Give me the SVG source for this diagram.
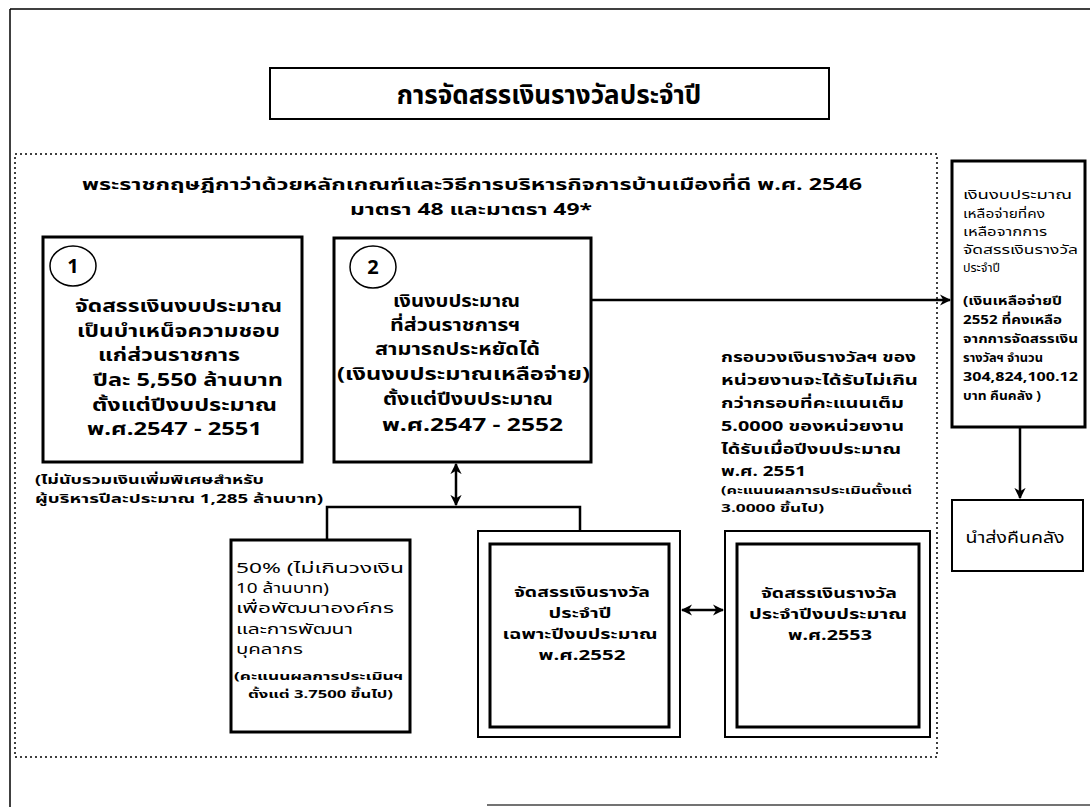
<svg xmlns="http://www.w3.org/2000/svg" width="1090" height="807" viewBox="0 0 1090 807">
<defs>
<style>
text{font-family:"Noto Sans Thai","Noto Sans","DejaVu Sans",sans-serif;fill:#000}
.b{font-weight:bold}
.t17{font-size:17px}
.t16{font-size:16px}
.t15{font-size:15px}
.t14{font-size:14px}
.t13{font-size:13px}
.t12{font-size:12px}
.t11{font-size:11px}
.m{text-anchor:middle}
.box{fill:#fff;stroke:#000;stroke-width:3}
.thin{fill:#fff;stroke:#000;stroke-width:2}
.ln{fill:none;stroke:#000;stroke-width:2.5}
</style>
<marker id="ah" viewBox="0 0 10 10" refX="9" refY="5" markerWidth="4.5" markerHeight="4.5" orient="auto-start-reverse">
<path d="M0,0 L10,5 L0,10 L3,5 z" fill="#000"/>
</marker>
</defs>
<rect width="1090" height="807" fill="#fff"/>
<g id="frame">
<line x1="10" y1="9" x2="1090" y2="9" stroke="#000" stroke-width="1.5"/>
<line x1="10" y1="9" x2="10" y2="807" stroke="#000" stroke-width="1.5"/>
<line x1="487" y1="805" x2="1090" y2="805" stroke="#444" stroke-width="1.5"/>
</g>
<g id="title">
<rect x="270" y="68" width="559" height="51" class="thin"/>
<text x="549" y="104" class="m b" style="font-size:26px">การจัดสรรเงินรางวัลประจำปี</text>
</g>
<g id="decree">
<rect x="15" y="154" width="922" height="603" fill="none" stroke="#000" stroke-width="1.5" stroke-dasharray="2 3"/>
<text x="82" y="190" class="b t16" textLength="780" lengthAdjust="spacingAndGlyphs">พระราชกฤษฎีกาว่าด้วยหลักเกณฑ์และวิธีการบริหารกิจการบ้านเมืองที่ดี พ.ศ. 2546</text>
<text x="350" y="215" class="b t16" textLength="242" lengthAdjust="spacingAndGlyphs">มาตรา 48 และมาตรา 49*</text>
</g>
<g id="box1">
<rect x="43" y="237" width="259" height="225" class="box"/>
<ellipse cx="73" cy="266" rx="23" ry="20" fill="#fff" stroke="#000" stroke-width="1.5"/>
<text x="73" y="273" class="m b" style="font-size:20px">1</text>
<g class="b t17">
<text x="75" y="312" textLength="207" lengthAdjust="spacingAndGlyphs">จัดสรรเงินงบประมาณ</text>
<text x="77" y="337" textLength="203" lengthAdjust="spacingAndGlyphs">เป็นบำเหน็จความชอบ</text>
<text x="98" y="361" textLength="142" lengthAdjust="spacingAndGlyphs">แก่ส่วนราชการ</text>
<text x="93" y="386" textLength="190" lengthAdjust="spacingAndGlyphs">ปีละ 5,550 ล้านบาท</text>
<text x="92" y="411" textLength="185" lengthAdjust="spacingAndGlyphs">ตั้งแต่ปีงบประมาณ</text>
<text x="87" y="435" textLength="175" lengthAdjust="spacingAndGlyphs">พ.ศ.2547 - 2551</text>
</g>
</g>
<g id="note1" class="b t13">
<text x="35" y="484" textLength="229" lengthAdjust="spacingAndGlyphs">(ไม่นับรวมเงินเพิ่มพิเศษสำหรับ</text>
<text x="35" y="503" textLength="288" lengthAdjust="spacingAndGlyphs">ผู้บริหารปีละประมาณ 1,285 ล้านบาท)</text>
</g>
<g id="box2">
<rect x="334" y="238" width="257" height="224" class="box"/>
<ellipse cx="373" cy="267" rx="23" ry="21" fill="#fff" stroke="#000" stroke-width="1.5"/>
<text x="373" y="274" class="m b" style="font-size:20px">2</text>
<g class="b t17">
<text x="393" y="307" textLength="127" lengthAdjust="spacingAndGlyphs">เงินงบประมาณ</text>
<text x="390" y="331" textLength="130" lengthAdjust="spacingAndGlyphs">ที่ส่วนราชการฯ</text>
<text x="375" y="355" textLength="165" lengthAdjust="spacingAndGlyphs">สามารถประหยัดได้</text>
<text x="337" y="380" textLength="253" lengthAdjust="spacingAndGlyphs">(เงินงบประมาณเหลือจ่าย)</text>
<text x="383" y="405" textLength="170" lengthAdjust="spacingAndGlyphs">ตั้งแต่ปีงบประมาณ</text>
<text x="382" y="431" textLength="181" lengthAdjust="spacingAndGlyphs">พ.ศ.2547 - 2552</text>
</g>
</g>
<g id="box3">
<rect x="231" y="540" width="179" height="192" class="box"/>
<g class="t14">
<text x="236" y="573" textLength="168" lengthAdjust="spacingAndGlyphs">50% (ไม่เกินวงเงิน</text>
<text x="236" y="593" textLength="93" lengthAdjust="spacingAndGlyphs">10 ล้านบาท)</text>
<text x="236" y="613" textLength="158" lengthAdjust="spacingAndGlyphs">เพื่อพัฒนาองค์กร</text>
<text x="236" y="634" textLength="117" lengthAdjust="spacingAndGlyphs">และการพัฒนา</text>
<text x="236" y="654" textLength="67" lengthAdjust="spacingAndGlyphs">บุคลากร</text>
</g>
<g class="b t11">
<text x="234" y="680" textLength="169" lengthAdjust="spacingAndGlyphs">(คะแนนผลการประเมินฯ</text>
<text x="248" y="698" textLength="145" lengthAdjust="spacingAndGlyphs">ตั้งแต่ 3.7500 ขึ้นไป)</text>
</g>
</g>
<g id="box4">
<rect x="478" y="531" width="202" height="206" class="thin"/>
<rect x="490" y="544" width="179" height="183" class="box"/>
<g class="m b t14">
<text x="582" y="597" textLength="136" lengthAdjust="spacingAndGlyphs">จัดสรรเงินรางวัล</text>
<text x="580" y="618" textLength="63" lengthAdjust="spacingAndGlyphs">ประจำปี</text>
<text x="580" y="639" textLength="155" lengthAdjust="spacingAndGlyphs">เฉพาะปีงบประมาณ</text>
<text x="582" y="660" textLength="87" lengthAdjust="spacingAndGlyphs">พ.ศ.2552</text>
</g>
</g>
<g id="box5">
<rect x="725" y="531" width="205" height="206" class="thin"/>
<rect x="737" y="544" width="182" height="183" class="box"/>
<g class="m b t14">
<text x="829" y="598" textLength="136" lengthAdjust="spacingAndGlyphs">จัดสรรเงินรางวัล</text>
<text x="828" y="619" textLength="158" lengthAdjust="spacingAndGlyphs">ประจำปีงบประมาณ</text>
<text x="830" y="640" textLength="84" lengthAdjust="spacingAndGlyphs">พ.ศ.2553</text>
</g>
</g>
<g id="frameNote" class="b t14">
<text x="721" y="362" textLength="195" lengthAdjust="spacingAndGlyphs">กรอบวงเงินรางวัลฯ ของ</text>
<text x="721" y="385" textLength="197" lengthAdjust="spacingAndGlyphs">หน่วยงานจะได้รับไม่เกิน</text>
<text x="721" y="408" textLength="183" lengthAdjust="spacingAndGlyphs">กว่ากรอบที่คะแนนเต็ม</text>
<text x="721" y="431" textLength="183" lengthAdjust="spacingAndGlyphs">5.0000 ของหน่วยงาน</text>
<text x="721" y="454" textLength="180" lengthAdjust="spacingAndGlyphs">ได้รับเมื่อปีงบประมาณ</text>
<text x="721" y="476" textLength="85" lengthAdjust="spacingAndGlyphs">พ.ศ. 2551</text>
<text x="721" y="494" class="t11" textLength="191" lengthAdjust="spacingAndGlyphs">(คะแนนผลการประเมินตั้งแต่</text>
<text x="721" y="512" class="t11" textLength="103" lengthAdjust="spacingAndGlyphs">3.0000 ขึ้นไป)</text>
</g>
<g id="boxRight">
<rect x="952" y="161" width="133" height="266" class="box"/>
<g class="t12">
<text x="963" y="199" textLength="109" lengthAdjust="spacingAndGlyphs">เงินงบประมาณ</text>
<text x="963" y="218" textLength="82" lengthAdjust="spacingAndGlyphs">เหลือจ่ายที่คง</text>
<text x="963" y="236" textLength="84" lengthAdjust="spacingAndGlyphs">เหลือจากการ</text>
<text x="963" y="254" textLength="115" lengthAdjust="spacingAndGlyphs">จัดสรรเงินรางวัล</text>
<text x="963" y="272" textLength="37" lengthAdjust="spacingAndGlyphs">ประจำปี</text>
</g>
<g class="b t12">
<text x="963" y="305" textLength="99" lengthAdjust="spacingAndGlyphs">(เงินเหลือจ่ายปี</text>
<text x="963" y="324" textLength="99" lengthAdjust="spacingAndGlyphs">2552 ที่คงเหลือ</text>
<text x="963" y="343" textLength="115" lengthAdjust="spacingAndGlyphs">จากการจัดสรรเงิน</text>
<text x="963" y="362" textLength="80" lengthAdjust="spacingAndGlyphs">รางวัลฯ จำนวน</text>
<text x="963" y="381" textLength="115" lengthAdjust="spacingAndGlyphs">304,824,100.12</text>
<text x="963" y="400" textLength="78" lengthAdjust="spacingAndGlyphs">บาท  คืนคลัง )</text>
</g>
</g>
<g id="boxReturn">
<rect x="952" y="500" width="131" height="71" class="thin"/>
<text x="1015" y="543" class="m t15" textLength="99" lengthAdjust="spacingAndGlyphs">นำส่งคืนคลัง</text>
</g>
<g id="connectors">
<line x1="591" y1="300" x2="950" y2="300" class="ln" marker-end="url(#ah)"/>
<line x1="1020" y1="427" x2="1020" y2="498" class="ln" marker-end="url(#ah)"/>
<line x1="456" y1="464" x2="456" y2="505" class="ln" marker-start="url(#ah)" marker-end="url(#ah)"/>
<polyline points="327,540 327,507 580,507 580,531" class="ln"/>
<line x1="682" y1="610" x2="723" y2="610" class="ln" marker-start="url(#ah)" marker-end="url(#ah)"/>
</g>
</svg>
